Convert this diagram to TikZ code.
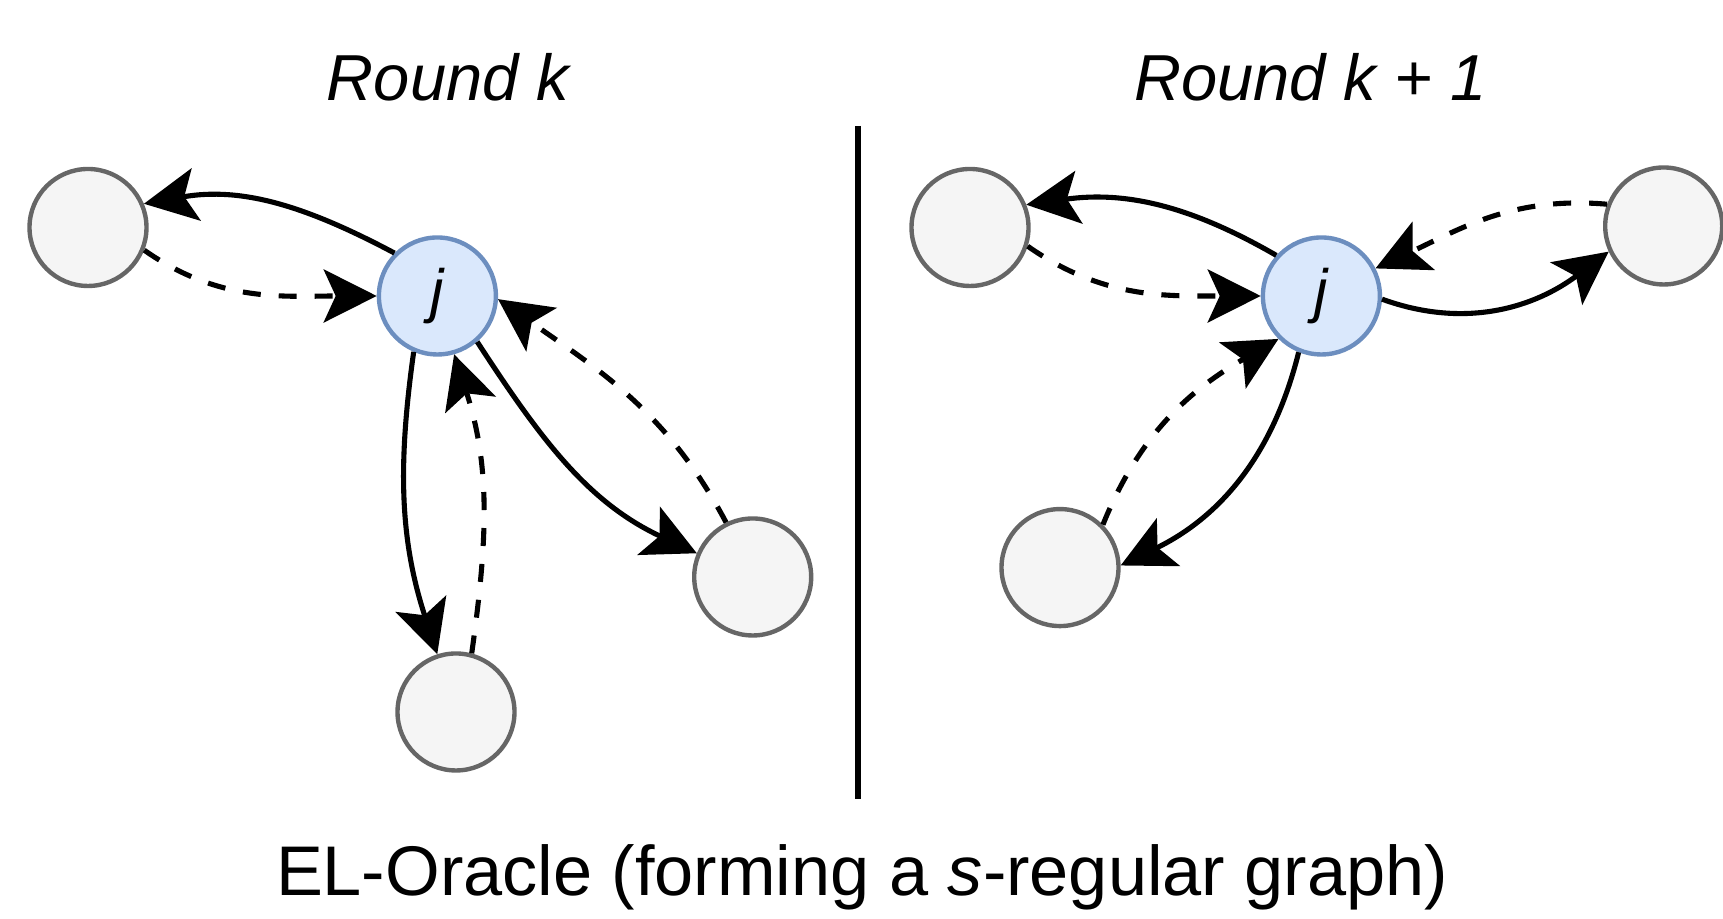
\documentclass[tikz,border=0pt]{standalone}
\usepackage{fontspec}
\setmainfont{Liberation Sans}
\usetikzlibrary{arrows.meta}
\definecolor{grisfond}{HTML}{F5F5F5}
\definecolor{grisbord}{HTML}{666666}
\definecolor{bleufond}{HTML}{DAE8FC}
\definecolor{bleubord}{HTML}{6C8EBF}
\begin{document}
\begin{tikzpicture}[
	sommet/.style={circle,draw=grisbord,fill=grisfond,line width=1.25pt,minimum size=1.17cm,inner sep=0pt},
	centre/.style={sommet,draw=bleubord,fill=bleufond,font=\fontsize{17}{20}\selectfont\itshape},
	fleche/.style={-{Stealth[length=5.3mm,width=5.3mm,inset=1.2mm]},line width=1.45pt},
	tirets/.style={fleche,dash pattern=on 1.8mm off 1.8mm},
	titre/.style={font=\fontsize{18.5}{22}\selectfont\itshape,anchor=base}
]
	% Cadre
	\useasboundingbox (0,0) rectangle (17.23,9.19);
	% Titres
	\node[titre] (tk) at (4.48,8.18) {Round k};
	\node[titre] (tk1) at (13.105,8.18) {Round k + 1};
	% Separation
	\coordinate (haut) at (8.58,7.93);
	\coordinate (bas) at (8.58,1.20);
	\draw[line width=1.5pt] (haut) -- (bas);
	% Tour k
	\node[sommet] (a1) at (0.88,6.915) {};
	\node[centre] (j1) at (4.374,6.23) {j};
	\node[sommet] (b1) at (4.56,2.07) {};
	\node[sommet] (c1) at (7.527,3.42) {};
	\draw[fleche] (j1.135) to[out=152,in=10] (a1.23);
	\draw[tirets] (a1.-22) to[out=-35,in=180] (j1.180);
	\draw[fleche] (j1.247) to[out=-98,in=108] (b1.108);
	\draw[tirets] (b1.75) to[out=82,in=-72] (j1.-74);
	\draw[fleche] (j1.-49) to[out=-57,in=155] (c1.157);
	\draw[tirets] (c1.116) to[out=118,in=-35] (j1.-3);
	% Tour k+1
	\node[sommet] (a2) at (9.70,6.915) {};
	\node[centre] (j2) at (13.214,6.23) {j};
	\node[sommet] (c2) at (16.637,6.93) {};
	\node[sommet] (b2) at (10.60,3.514) {};
	\draw[fleche] (j2.138) to[out=150,in=8] (a2.22);
	\draw[tirets] (a2.-18) to[out=-35,in=180] (j2.180);
	\draw[tirets] (c2.159) to[out=175,in=25] (j2.27);
	\draw[fleche] (j2.-3) to[out=-20,in=-143] (c2.205);
	\draw[tirets] (b2.45) to[out=68,in=-150] (j2.225);
	\draw[fleche] (j2.-112) to[out=-104,in=26] (b2.2);
	% Legende
	\node[font=\fontsize{20}{24}\selectfont,anchor=base] (leg) at (8.62,0.234) {EL-Oracle (forming a \textit{s}-regular graph)};
\end{tikzpicture}
\end{document}
